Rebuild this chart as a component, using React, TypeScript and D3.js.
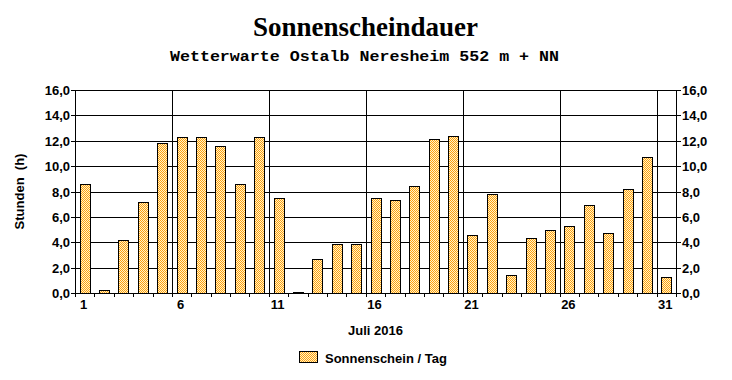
import React from "react";
import * as d3 from "d3";

const days: number[] = d3.range(1, 32);
const sunshine: number[] = [
  8.6, 0.2, 4.2, 7.2, 11.8, 12.3, 12.3, 11.6, 8.6, 12.3,
  7.5, 0.1, 2.7, 3.9, 3.9, 7.5, 7.3, 8.4, 12.1, 12.4,
  4.6, 7.8, 1.4, 4.3, 5.0, 5.3, 6.9, 4.7, 8.2, 10.7, 1.3,
];
const yTicks: number[] = [0, 2, 4, 6, 8, 10, 12, 14, 16];
const xLabelDays: number[] = [1, 6, 11, 16, 21, 26, 31];
const title = "Sonnenscheindauer";
const subtitle = "Wetterwarte Ostalb Neresheim 552 m + NN";
const yLabel = "Stunden  (h)";
const xLabel = "Juli 2016";
const legendLabel = "Sonnenschein / Tag";

const W = 732;
const H = 380;
const left = 75;
const right = 676;
const top = 90;
const bottom = 293;

export default function App() {
  const x = d3.scaleBand<number>().domain(days).range([left, right]).paddingInner(0).paddingOuter(0);
  const y = d3.scaleLinear().domain([0, 16]).range([bottom, top]);
  const bw = x.bandwidth();
  const barW = Math.round(bw * 0.5);
  const axisFont = "'Liberation Sans', Arial, sans-serif";
  const fmt = (v: number) => v.toFixed(1).replace(".", ",");
  const px = (v: number) => Math.round(v) + 0.5;

  return (
    <svg
      width={W}
      height={H}
      style={{ position: "absolute", left: 0, top: 0, background: "#fff" }}
      shapeRendering="crispEdges"
    >
      <defs>
        <pattern id="chk" width={2} height={2} patternUnits="userSpaceOnUse">
          <rect x={0} y={0} width={2} height={2} fill="#FFF4C8" />
          <rect x={0} y={0} width={1} height={1} fill="#FF9F10" />
          <rect x={1} y={1} width={1} height={1} fill="#FF9F10" />
        </pattern>
      </defs>
      <rect width={W} height={H} fill="#fff" />
      <text
        x={365.5}
        y={36}
        textAnchor="middle"
        fontFamily="'Liberation Serif', 'Times New Roman', serif"
        fontWeight="bold"
        fontSize={27}
        textLength={225}
        lengthAdjust="spacingAndGlyphs"
      >
        {title}
      </text>
      <text
        x={364.5}
        y={61}
        textAnchor="middle"
        fontFamily="'Liberation Mono', 'Courier New', monospace"
        fontWeight="bold"
        fontSize={15}
        textLength={389}
        lengthAdjust="spacingAndGlyphs"
      >
        {subtitle}
      </text>

      {/* horizontal gridlines */}
      {yTicks.map((t) => (
        <g key={"h" + t}>
          <line x1={left - 4} x2={right + 5} y1={px(y(t))} y2={px(y(t))} stroke="#000" />
          <text
            x={left - 5}
            y={y(t) + 5}
            textAnchor="end"
            fontFamily={axisFont}
            fontWeight="bold"
            fontSize={13}
          >
            {fmt(t)}
          </text>
          <text
            x={right + 6}
            y={y(t) + 5}
            textAnchor="start"
            fontFamily={axisFont}
            fontWeight="bold"
            fontSize={13}
          >
            {fmt(t)}
          </text>
        </g>
      ))}

      {/* vertical gridlines at label days */}
      {xLabelDays.slice(1).map((d) => (
        <line key={"v" + d} x1={px(x(d)!)} x2={px(x(d)!)} y1={top} y2={bottom} stroke="#000" />
      ))}
      <line x1={px(left)} x2={px(left)} y1={top} y2={bottom + 4} stroke="#000" />
      <line x1={px(right)} x2={px(right)} y1={top} y2={bottom + 4} stroke="#000" />

      {/* x ticks at band boundaries */}
      {days.slice(1).map((d) => (
        <line key={"t" + d} x1={px(x(d)!)} x2={px(x(d)!)} y1={bottom} y2={bottom + 4} stroke="#000" />
      ))}

      {/* bars */}
      {sunshine.map((v, i) => {
        const d = days[i];
        const cx = x(d)! + bw / 2;
        const x0 = Math.round(cx - barW / 2);
        const yt = Math.round(y(v));
        const h = Math.max(Math.round(bottom) - yt, 1);
        return (
          <rect
            key={"b" + d}
            x={x0 + 0.5}
            y={yt + 0.5}
            width={barW}
            height={h}
            fill="url(#chk)"
            stroke="#000"
            strokeWidth={1}
          />
        );
      })}

      {/* baseline */}
      <line x1={left - 4} x2={right + 5} y1={px(bottom)} y2={px(bottom)} stroke="#000" />

      {/* x labels */}
      {xLabelDays.map((d) => (
        <text
          key={"xl" + d}
          x={x(d)! + bw / 2 - 1}
          y={309}
          textAnchor="middle"
          fontFamily={axisFont}
          fontWeight="bold"
          fontSize={13}
        >
          {d}
        </text>
      ))}
      <text
        x={(left + right) / 2}
        y={335}
        textAnchor="middle"
        fontFamily={axisFont}
        fontWeight="bold"
        fontSize={13}
      >
        {xLabel}
      </text>
      <text
        transform={`translate(24,${(top + bottom) / 2}) rotate(-90)`}
        textAnchor="middle"
        fontFamily={axisFont}
        fontWeight="bold"
        fontSize={13}
        xmlSpace="preserve"
        style={{ whiteSpace: "pre" }}
      >
        {yLabel}
      </text>

      {/* legend */}
      <rect x={299.5} y={351.5} width={18} height={11} fill="url(#chk)" stroke="#000" />
      <text x={325} y={363} fontFamily={axisFont} fontWeight="bold" fontSize={13}>
        {legendLabel}
      </text>
    </svg>
  );
}
